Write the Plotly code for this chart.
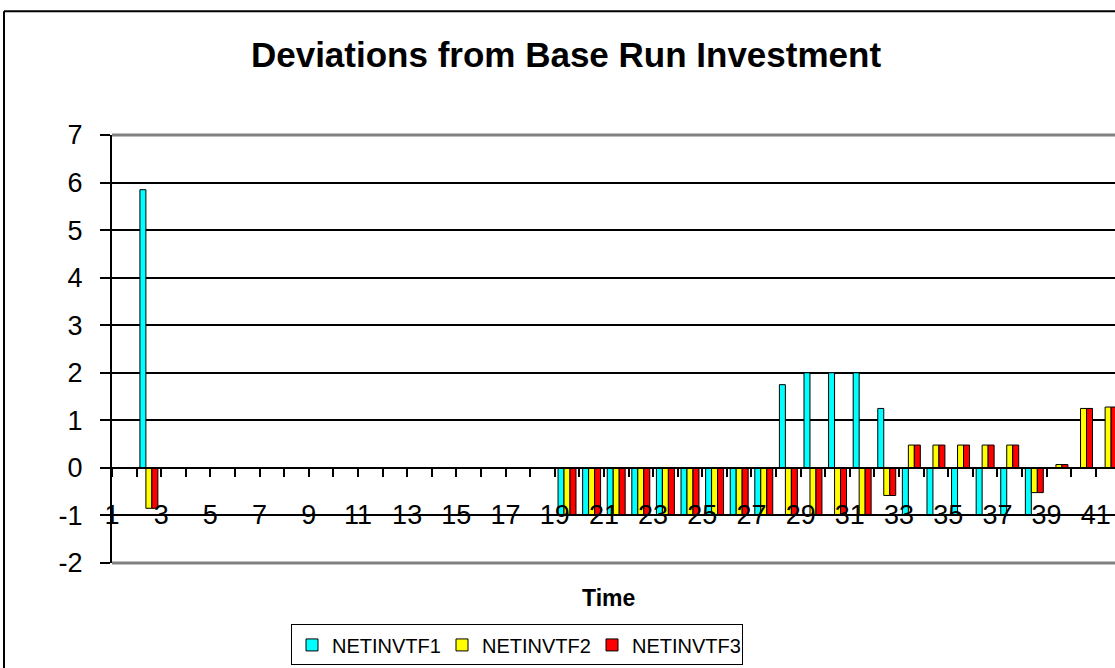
import plotly.graph_objects as go

# ---- data ----
periods = list(range(1, 42))
netinvtf1 = [0, 5.85] + [0] * 16 + [-0.98] * 9 + [1.75, 2.0, 2.0, 2.0, 1.25] + [-0.98] * 6 + [0, 0]
netinvtf2 = [0, -0.85] + [0] * 16 + [-0.98] * 13 + [-0.58] + [0.48] * 5 + [-0.52, 0.07, 1.25, 1.28]
netinvtf3 = [0, -0.85] + [0] * 16 + [-0.98] * 13 + [-0.58] + [0.48] * 5 + [-0.52, 0.07, 1.25, 1.28]
series_names = ["NETINVTF1", "NETINVTF2", "NETINVTF3"]
series_colors = ["#00FFFF", "#FFFF00", "#FF0000"]
label_periods = [p for p in periods if p % 2 == 1]
y_ticks = list(range(-2, 8))

FONT = "Liberation Sans, Arial, sans-serif"
W, H = 1115, 668

fig = go.Figure()
for name, vals, col in zip(series_names, [netinvtf1, netinvtf2, netinvtf3], series_colors):
    fig.add_trace(go.Bar(
        x=periods, y=vals, name=name,
        marker=dict(color=col, line=dict(color="black", width=1)),
    ))

fig.update_layout(
    width=W, height=H,
    barmode="group", bargap=0.27, bargroupgap=0,
    paper_bgcolor="white", plot_bgcolor="white",
    margin=dict(l=112, r=0, t=135, b=H - 563.5, autoexpand=False),
    font=dict(family=FONT, color="black"),
    title=dict(
        text="Deviations from Base Run Investment",
        font=dict(family=FONT, size=35, color="black", weight="bold"),
        x=566 / W, xanchor="center", xref="container",
        y=1 - 55 / H, yanchor="middle", yref="container",
    ),
    showlegend=True,
    legend=dict(
        orientation="h",
        x=(291 - 112) / 1003, xanchor="left",
        y=(563.5 - 625) / 428.5, yanchor="top",
        bordercolor="black", borderwidth=1,
        font=dict(family=FONT, size=20, color="black"),
        itemwidth=30,
        entrywidth=105, entrywidthmode="pixels",
        traceorder="normal",
    ),
)

fig.update_xaxes(
    type="linear",
    range=[0.5, 41.28],
    tickmode="array",
    tickvals=[p - 0.5 for p in label_periods],
    ticktext=[str(p) for p in label_periods],
    ticks="outside", ticklen=8, tickwidth=2, tickcolor="black",
    minor=dict(ticks="outside", ticklen=8, tickwidth=2, tickcolor="black",
               tick0=0.5, dtick=1, showgrid=False),
    showgrid=False, zeroline=False,
    showline=True, linecolor="black", linewidth=2,
    anchor="free", position=2 / 9,
    tickfont=dict(family=FONT, size=27, color="black"),
    ticklabelstandoff=15,
)

fig.update_yaxes(
    range=[-2, 7],
    tickmode="array", tickvals=y_ticks, ticktext=[str(v) for v in y_ticks],
    ticks="outside", ticklen=10, tickwidth=2, tickcolor="black",
    showgrid=True, gridcolor="black", gridwidth=1.5,
    zeroline=False,
    showline=True, linecolor="black", linewidth=2,
    tickfont=dict(family=FONT, size=27, color="black"),
    ticklabelstandoff=12,
)

# grey plot-area border (top and bottom)
for yy in (0, 1):
    fig.add_shape(type="line", xref="paper", yref="paper", x0=0, x1=1.01, y0=yy, y1=yy,
                  line=dict(color="#808080", width=3), layer="above")

# outer chart frame (left and top, the rest is cut off)
fx0 = (4 - 112) / 1003
fy1 = 1 + (135 - 11) / 428.5
fig.add_shape(type="line", xref="paper", yref="paper", x0=fx0, x1=fx0, y0=fy1, y1=-0.5,
              line=dict(color="black", width=2))
fig.add_shape(type="line", xref="paper", yref="paper", x0=fx0, x1=1.1, y0=fy1, y1=fy1,
              line=dict(color="black", width=2))

fig.add_annotation(
    text="Time", xref="paper", yref="paper",
    x=(608 - 112) / 1003, y=(563.5 - 598.5) / 428.5,
    xanchor="center", yanchor="middle", showarrow=False,
    font=dict(family=FONT, size=23, color="black", weight="bold"),
)

fig.write_html("out.html", config={"displayModeBar": False},
               post_script="document.body.style.margin='0px';")
